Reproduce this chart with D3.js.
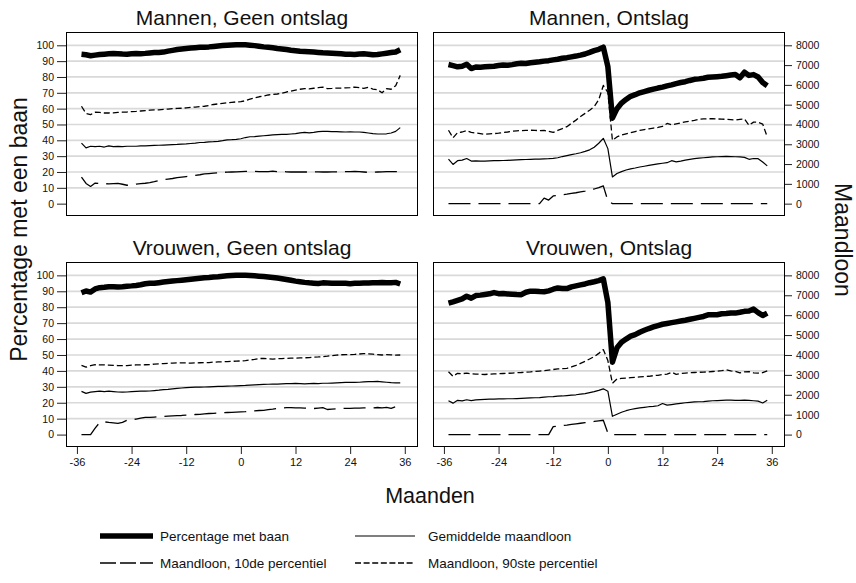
<!DOCTYPE html>
<html>
<head>
<meta charset="utf-8">
<script src="https://cdn.jsdelivr.net/npm/d3@7"></script>
<style>
  body { margin: 0; background: #fff; }
  svg { display: block; font-family: "Liberation Sans", Arial, Helvetica, sans-serif; }
</style>
</head>
<body>
<svg id="chart" width="856" height="583"></svg>
<script>
// Months relative to dismissal
const months = d3.range(-35, 36);
const xTicks = [-36, -24, -12, 0, 12, 24, 36];
const pctTicks = [0, 10, 20, 30, 40, 50, 60, 70, 80, 90, 100];
const wageTicks = [0, 1000, 2000, 3000, 4000, 5000, 6000, 7000, 8000];
const gridLines = [10, 20, 30, 40, 50, 60, 70, 80, 90, 100];

// Mannen, geen ontslag
const mgPct = [94.3, 94.0, 93.4, 93.8, 94.2, 94.4, 94.6, 94.8, 94.7, 94.5,
  94.4, 94.6, 94.8, 94.7, 94.9, 95.2, 95.4, 95.5, 95.7, 96.3,
  96.8, 97.3, 97.7, 98.0, 98.3, 98.5, 98.7, 98.8, 99.0, 99.3,
  99.6, 99.8, 100.0, 100.2, 100.3, 100.4, 100.3, 100.1, 99.8, 99.4,
  99.0, 98.7, 98.4, 98.0, 97.7, 97.3, 96.9, 96.6, 96.3, 96.1,
  95.9, 95.7, 95.5, 95.3, 95.2, 95.0, 94.8, 94.6, 94.4, 94.3,
  94.2, 94.5, 94.6, 94.4, 94.0, 94.2, 94.6, 95.0, 95.4, 95.8, 97.2];
const mgMean = [3060, 2820, 2900, 2880, 2900, 2860, 2920, 2880, 2890, 2880,
  2900, 2900, 2900, 2920, 2920, 2930, 2940, 2950, 2960, 2970,
  2980, 2990, 3010, 3020, 3040, 3060, 3090, 3100, 3120, 3130,
  3150, 3180, 3220, 3230, 3250, 3280, 3340, 3380, 3390, 3410,
  3430, 3450, 3470, 3490, 3500, 3500, 3520, 3540, 3580, 3600,
  3580, 3600, 3640, 3650, 3650, 3640, 3640, 3630, 3620, 3630,
  3620, 3620, 3600, 3570, 3540, 3520, 3520, 3530, 3570, 3650, 3840];
const mgP10 = [1340, 1020, 870, 1040, 1020, 1010, 1000, 1010, 1020, 980,
  930, 940, 990, 1010, 1030, 1060, 1110, 1170, 1210, 1240,
  1270, 1310, 1340, 1370, 1400, 1430, 1460, 1500, 1520, 1540,
  1560, 1580, 1590, 1600, 1610, 1620, 1630, 1640, 1630, 1620,
  1620, 1620, 1640, 1620, 1620, 1610, 1600, 1610, 1600, 1600,
  1600, 1600, 1610, 1600, 1600, 1610, 1610, 1620, 1620, 1620,
  1630, 1620, 1600, 1580, 1580, 1600, 1610, 1620, 1620, 1620, 1610];
const mgP90 = [4920, 4560, 4500, 4620, 4610, 4580, 4580, 4590, 4610, 4620,
  4630, 4650, 4660, 4680, 4700, 4720, 4740, 4740, 4760, 4780,
  4800, 4810, 4820, 4840, 4860, 4880, 4900, 4920, 4960, 5010,
  5040, 5070, 5100, 5120, 5140, 5150, 5200, 5280, 5340, 5400,
  5440, 5490, 5520, 5540, 5580, 5640, 5680, 5740, 5780, 5810,
  5800, 5830, 5860, 5890, 5810, 5820, 5840, 5840, 5850, 5860,
  5890, 5860, 5820, 5880, 5790, 5760, 5600, 5810, 5780, 5960, 6480];

// Mannen, ontslag
const moPct = [87.9, 87.2, 86.4, 86.8, 88.0, 85.3, 86.3, 86.2, 86.4, 86.6,
  86.8, 87.2, 87.5, 87.4, 87.8, 88.3, 88.6, 88.5, 89.0, 89.3,
  89.6, 90.0, 90.3, 90.8, 91.2, 91.8, 92.2, 92.7, 93.2, 93.8,
  94.5, 95.5, 96.6, 97.5, 98.8, 86.5, 54.0, 60.0, 63.5, 65.8,
  67.8, 68.8, 70.0, 70.8, 71.6, 72.3, 73.0, 73.6, 74.4, 75.0,
  75.8, 76.5, 77.0, 77.8, 78.5, 78.8, 79.2, 79.8, 80.0, 80.2,
  80.4, 80.8, 81.2, 81.5, 79.5, 83.0, 81.0, 81.5, 80.0, 76.5, 74.5];
const moMean = [2250, 1980, 2170, 2200, 2280, 2150, 2160, 2150, 2150, 2160,
  2170, 2170, 2180, 2190, 2200, 2210, 2220, 2230, 2240, 2250,
  2250, 2260, 2270, 2290, 2320, 2380, 2430, 2480, 2520, 2570,
  2640, 2720, 2850, 3050, 3300, 2780, 1350, 1520, 1620, 1700,
  1760, 1800, 1850, 1890, 1930, 1970, 2010, 2040, 2070, 2170,
  2110, 2150, 2200, 2240, 2270, 2300, 2320, 2340, 2360, 2370,
  2380, 2390, 2380, 2370, 2360, 2340, 2240, 2280, 2270, 2100, 1910];
const moP10 = [0, 0, 0, 0, 0, 0, 0, 0, 0, 0,
  0, 0, 0, 0, 0, 0, 0, 0, 0, 0,
  0, 280, 180, 390, 420, 450, 480, 520, 550, 590,
  630, 680, 740, 810, 900, 150, 0, 0, 0, 0,
  0, 0, 0, 0, 0, 0, 0, 0, 0, 0,
  0, 0, 0, 0, 0, 0, 0, 0, 0, 0,
  0, 0, 0, 0, 0, 0, 0, 0, 0, 0, 0];
const moP90 = [3710, 3330, 3590, 3620, 3690, 3600, 3570, 3540, 3500, 3530,
  3540, 3560, 3590, 3620, 3660, 3680, 3690, 3700, 3710, 3700,
  3690, 3700, 3650, 3600, 3700, 3790, 3890, 4060, 4220, 4400,
  4560, 4720, 4900, 5250, 5970, 5620, 3200, 3370, 3470, 3530,
  3580, 3640, 3700, 3740, 3780, 3820, 3850, 3900, 4050, 3980,
  4030, 4080, 4130, 4170, 4210, 4260, 4280, 4290, 4290, 4280,
  4270, 4260, 4240, 4220, 4260, 4280, 3960, 4120, 4110, 4020, 3370];

// Vrouwen, geen ontslag
const vgPct = [89.1, 90.2, 89.5, 91.5, 92.3, 92.5, 92.8, 92.9, 92.7, 92.9,
  93.2, 93.4, 93.7, 94.1, 94.7, 95.1, 95.0, 95.4, 95.8, 96.1,
  96.4, 96.7, 97.0, 97.3, 97.6, 97.9, 98.2, 98.5, 98.7, 99.0,
  99.2, 99.5, 99.7, 99.9, 100.0, 100.1, 100.0, 99.9, 99.7, 99.5,
  99.3, 99.0, 98.7, 98.3, 97.9, 97.4, 96.9, 96.4, 96.0, 95.6,
  95.3, 95.1, 94.9, 95.3, 95.2, 95.1, 95.1, 95.0, 95.0, 94.8,
  95.0, 95.1, 95.2, 95.2, 95.3, 95.4, 95.5, 95.3, 95.4, 95.6, 94.6];
const vgMean = [2170, 2070, 2130, 2160, 2180, 2160, 2180, 2160, 2140, 2130,
  2140, 2160, 2170, 2180, 2180, 2190, 2210, 2230, 2260, 2270,
  2300, 2320, 2340, 2360, 2370, 2380, 2380, 2390, 2400, 2410,
  2420, 2420, 2430, 2440, 2450, 2460, 2470, 2490, 2500, 2510,
  2520, 2530, 2540, 2540, 2550, 2560, 2560, 2570, 2560, 2550,
  2560, 2570, 2560, 2580, 2580, 2590, 2600, 2610, 2620, 2620,
  2620, 2630, 2650, 2660, 2660, 2670, 2650, 2630, 2610, 2600, 2600];
const vgP10 = [0, 0, 0, 320, 610, 640, 610, 590, 560, 610,
  720, 750, 780, 830, 860, 860, 880, 900, 910, 930,
  940, 950, 960, 980, 990, 1010, 1020, 1040, 1060, 1070,
  1090, 1100, 1110, 1120, 1130, 1140, 1150, 1180, 1190, 1210,
  1220, 1250, 1280, 1320, 1340, 1350, 1350, 1340, 1340, 1330,
  1320, 1310, 1330, 1350, 1260, 1280, 1300, 1310, 1320, 1320,
  1330, 1330, 1340, 1340, 1340, 1360, 1340, 1370, 1320, 1400, 1500];
const vgP90 = [3480, 3390, 3460, 3510, 3500, 3500, 3490, 3480, 3470, 3460,
  3470, 3490, 3500, 3500, 3510, 3520, 3540, 3550, 3570, 3580,
  3590, 3600, 3600, 3600, 3590, 3600, 3610, 3620, 3620, 3640,
  3650, 3660, 3670, 3680, 3690, 3700, 3720, 3750, 3780, 3820,
  3830, 3810, 3790, 3810, 3820, 3830, 3840, 3840, 3850, 3860,
  3870, 3890, 3900, 3920, 3940, 3970, 3990, 4010, 4020, 4020,
  4030, 4050, 4070, 4060, 4040, 4020, 4000, 4020, 4010, 3990, 4000];

// Vrouwen, ontslag
const voPct = [82.6, 83.4, 84.3, 85.2, 86.9, 85.7, 87.3, 87.6, 88.0, 88.4,
  89.2, 88.5, 88.6, 88.3, 88.2, 88.0, 87.9, 89.4, 90.1, 90.0,
  89.8, 89.7, 90.3, 91.3, 92.1, 91.8, 91.7, 92.8, 93.4, 94.0,
  94.6, 95.4, 96.0, 96.7, 97.8, 83.0, 45.5, 54.5, 58.0, 60.0,
  61.8, 62.8, 64.3, 65.5, 66.6, 67.6, 68.5, 69.3, 69.8, 70.3,
  70.8, 71.3, 71.8, 72.4, 73.0, 73.6, 74.2, 75.2, 75.3, 75.3,
  75.9, 76.0, 76.4, 76.3, 76.8, 77.4, 77.6, 78.8, 76.6, 74.8, 76.3];
const voMean = [1700, 1580, 1720, 1690, 1750, 1710, 1740, 1760, 1770, 1780,
  1780, 1790, 1790, 1800, 1800, 1810, 1820, 1830, 1840, 1850,
  1860, 1880, 1900, 1910, 1930, 1940, 1960, 1980, 2000, 2030,
  2060, 2110, 2160, 2220, 2300, 2180, 920, 1020, 1120, 1200,
  1260, 1300, 1340, 1370, 1400, 1420, 1450, 1560, 1480, 1510,
  1540, 1570, 1600, 1620, 1640, 1650, 1660, 1680, 1700, 1710,
  1720, 1730, 1730, 1720, 1720, 1730, 1720, 1700, 1680, 1590, 1720];
const voP10 = [0, 0, 0, 0, 0, 0, 0, 0, 0, 0,
  0, 0, 0, 0, 0, 0, 0, 0, 0, 0,
  0, 0, 0, 400, 430, 460, 480, 510, 540, 570,
  600, 630, 660, 690, 720, 80, 0, 0, 0, 0,
  0, 0, 0, 0, 0, 0, 0, 0, 0, 0,
  0, 0, 0, 0, 0, 0, 0, 0, 0, 0,
  0, 0, 0, 0, 0, 0, 0, 0, 0, 0, 0];
const voP90 = [3160, 2930, 3080, 3060, 3090, 3050, 3040, 3030, 3020, 3040,
  3050, 3060, 3070, 3080, 3090, 3110, 3120, 3140, 3150, 3170,
  3190, 3210, 3240, 3270, 3300, 3310, 3330, 3400, 3480, 3580,
  3680, 3800, 3920, 4080, 4270, 3720, 2580, 2790, 2820, 2840,
  2860, 2880, 2900, 2910, 2930, 2960, 2980, 3020, 3040, 3130,
  3030, 3070, 3090, 3110, 3120, 3130, 3140, 3150, 3170, 3190,
  3210, 3260, 3200, 3180, 3100, 3150, 3160, 3100, 3090, 3110, 3200];

const panelTitles = ["Mannen, Geen ontslag", "Mannen, Ontslag", "Vrouwen, Geen ontslag", "Vrouwen, Ontslag"];
const legendLabels = ["Percentage met baan", "Gemiddelde maandloon", "Maandloon, 10de percentiel", "Maandloon, 90ste percentiel"];

// Panel grid
const panels = [
  { title: panelTitles[0], row: 0, col: 0, pct: mgPct, mean: mgMean, p10: mgP10, p90: mgP90 },
  { title: panelTitles[1], row: 0, col: 1, pct: moPct, mean: moMean, p10: moP10, p90: moP90 },
  { title: panelTitles[2], row: 1, col: 0, pct: vgPct, mean: vgMean, p10: vgP10, p90: vgP90 },
  { title: panelTitles[3], row: 1, col: 1, pct: voPct, mean: voMean, p10: voP10, p90: voP90 }
];

const panelW = 352;
const colX = [66, 433];
const rowY = [32, 262];
const rowH = [184, 185];
const pctDomain = [-7.8, 108.4];
const wageDomain = [pctDomain[0] * 80, pctDomain[1] * 80];

const styles = {
  pct:  { width: 5.5, dash: null, legendDash: null },
  mean: { width: 1.2, dash: null, legendDash: null },
  p10:  { width: 1.3, dash: "22,8", legendDash: "16,4" },
  p90:  { width: 1.3, dash: "6,3", legendDash: "6,2.6" }
};

const svg = d3.select("#chart");
const FONT = '"Liberation Sans", Arial, Helvetica, sans-serif';
const plainNum = d => String(d);   // hyphen-minus, no thousands separator

panels.forEach(p => {
  const x0 = colX[p.col], y0 = rowY[p.row], h = rowH[p.row];
  const x = d3.scaleLinear().domain([-38.4, 38.9]).range([x0, x0 + panelW]);
  const yPct = d3.scaleLinear().domain(pctDomain).range([y0 + h, y0]);
  const yWage = d3.scaleLinear().domain(wageDomain).range([y0 + h, y0]);

  const g = svg.append("g");

  // horizontal reference lines
  g.selectAll("line.grid").data(gridLines).join("line")
    .attr("class", "grid")
    .attr("x1", x0 + 1).attr("x2", x0 + panelW - 1)
    .attr("y1", d => yPct(d)).attr("y2", d => yPct(d))
    .attr("stroke", "#d9d9d9").attr("stroke-width", 1.7);

  const wageLine = d3.line().x((d, i) => x(months[i])).y(d => yWage(d));
  const pctLine = d3.line().x((d, i) => x(months[i])).y(d => yPct(d));

  const series = [
    { key: "p10", data: p.p10, gen: wageLine },
    { key: "p90", data: p.p90, gen: wageLine },
    { key: "mean", data: p.mean, gen: wageLine },
    { key: "pct", data: p.pct, gen: pctLine }
  ];
  series.forEach(s => {
    g.append("path")
      .attr("d", s.gen(s.data))
      .attr("fill", "none")
      .attr("stroke", "#000")
      .attr("stroke-width", styles[s.key].width)
      .attr("stroke-linejoin", "round")
      .attr("stroke-dasharray", styles[s.key].dash);
  });

  // frame
  g.append("rect")
    .attr("x", x0 + 0.5).attr("y", y0 + 0.5)
    .attr("width", panelW - 1).attr("height", h - 1)
    .attr("fill", "none").attr("stroke", "#000").attr("stroke-width", 1);

  // title
  svg.append("text")
    .attr("x", x0 + panelW / 2).attr("y", y0 - 7)
    .attr("text-anchor", "middle")
    .attr("font-size", 21).attr("font-family", FONT)
    .attr("fill", "#111")
    .text(p.title);

  // y axis: percentage on the left, wage on the right
  let axisG;
  if (p.col === 0) {
    axisG = svg.append("g").attr("transform", `translate(${x0},0)`)
      .call(d3.axisLeft(yPct).tickValues(pctTicks).tickFormat(plainNum).tickSize(9).tickPadding(3));
  } else {
    axisG = svg.append("g").attr("transform", `translate(${x0 + panelW},0)`)
      .call(d3.axisRight(yWage).tickValues(wageTicks).tickFormat(plainNum).tickSize(7).tickPadding(4));
  }
  axisG.select(".domain").remove();
  axisG.selectAll("text").attr("font-size", 10.5).attr("font-family", FONT).attr("fill", "#111");
  axisG.selectAll("line").attr("stroke", "#222");

  // x axis on the bottom row only
  if (p.row === 1) {
    const xa = svg.append("g").attr("transform", `translate(0,${y0 + h})`)
      .call(d3.axisBottom(x).tickValues(xTicks).tickFormat(plainNum).tickSize(7).tickPadding(4));
    xa.select(".domain").remove();
    xa.selectAll("text").attr("font-size", 11).attr("font-family", FONT).attr("fill", "#111");
    xa.selectAll("line").attr("stroke", "#222");
  }
});

// axis titles
svg.append("text")
  .attr("transform", "translate(27,229.5) rotate(-90)")
  .attr("text-anchor", "middle").attr("font-size", 23).attr("font-family", FONT).attr("fill", "#111")
  .text("Percentage met een baan");
svg.append("text")
  .attr("transform", "translate(835,240) rotate(90)")
  .attr("text-anchor", "middle").attr("font-size", 23).attr("font-family", FONT).attr("fill", "#111")
  .text("Maandloon");
svg.append("text")
  .attr("x", 430).attr("y", 503)
  .attr("text-anchor", "middle").attr("font-size", 21.5).attr("font-family", FONT).attr("fill", "#111")
  .text("Maanden");

// legend
const legendItems = [
  { key: "pct",  label: legendLabels[0], x1: 100, x2: 153, tx: 160, y: 536 },
  { key: "mean", label: legendLabels[1], x1: 355, x2: 415, tx: 428, y: 536 },
  { key: "p10",  label: legendLabels[2], x1: 100, x2: 153, tx: 160, y: 563 },
  { key: "p90",  label: legendLabels[3], x1: 355, x2: 415, tx: 428, y: 563 }
];
const lg = svg.append("g");
legendItems.forEach(it => {
  lg.append("line")
    .attr("x1", it.x1).attr("x2", it.x2).attr("y1", it.y).attr("y2", it.y)
    .attr("stroke", "#000").attr("stroke-width", styles[it.key].width)
    .attr("stroke-dasharray", styles[it.key].legendDash);
  lg.append("text")
    .attr("x", it.tx).attr("y", it.y + 4.5)
    .attr("font-size", 13.5).attr("font-family", FONT).attr("fill", "#111")
    .text(it.label);
});
</script>
</body>
</html>
